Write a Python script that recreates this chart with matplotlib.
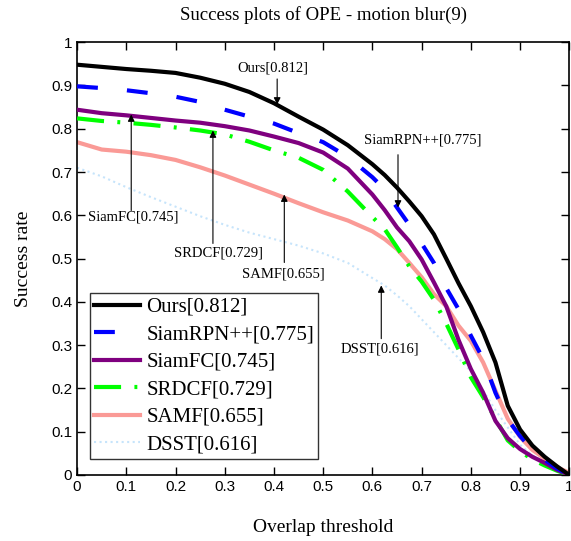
import matplotlib
matplotlib.use("Agg")
import matplotlib.pyplot as plt
import numpy as np

# overlap thresholds
thr = [0, 0.05, 0.1, 0.15, 0.2, 0.25, 0.3, 0.35, 0.4, 0.45, 0.5, 0.55, 0.6,
       0.625, 0.65, 0.675, 0.7, 0.725, 0.75, 0.775, 0.8, 0.825, 0.85, 0.875,
       0.9, 0.925, 0.95, 0.975, 1.0]

ours = [0.948, 0.943, 0.938, 0.934, 0.929, 0.918, 0.904, 0.885, 0.859, 0.828,
        0.798, 0.762, 0.718, 0.693, 0.664, 0.632, 0.598, 0.556, 0.500, 0.443,
        0.390, 0.330, 0.260, 0.160, 0.105, 0.068, 0.042, 0.020, 0.0]
siamrpn = [0.898, 0.894, 0.889, 0.882, 0.874, 0.862, 0.844, 0.828, 0.812, 0.790,
           0.769, 0.735, 0.688, 0.660, 0.618, 0.578, 0.535, 0.490, 0.432, 0.383,
           0.322, 0.268, 0.190, 0.128, 0.090, 0.058, 0.035, 0.015, 0.0]
siamfc = [0.844, 0.836, 0.831, 0.825, 0.819, 0.814, 0.806, 0.796, 0.782, 0.767,
          0.745, 0.708, 0.648, 0.612, 0.572, 0.540, 0.498, 0.445, 0.390, 0.312,
          0.245, 0.190, 0.125, 0.085, 0.060, 0.042, 0.028, 0.012, 0.0]
srdcf = [0.824, 0.818, 0.814, 0.809, 0.803, 0.796, 0.787, 0.770, 0.750, 0.733,
         0.705, 0.655, 0.596, 0.568, 0.526, 0.482, 0.447, 0.405, 0.350, 0.290,
         0.226, 0.180, 0.130, 0.080, 0.055, 0.036, 0.022, 0.010, 0.0]
samf = [0.769, 0.752, 0.747, 0.739, 0.728, 0.711, 0.692, 0.671, 0.650, 0.628,
        0.607, 0.588, 0.563, 0.545, 0.522, 0.490, 0.457, 0.418, 0.390, 0.345,
        0.310, 0.260, 0.195, 0.130, 0.088, 0.058, 0.038, 0.018, 0.005]
dsst = [0.710, 0.690, 0.665, 0.642, 0.620, 0.598, 0.578, 0.560, 0.545, 0.530,
        0.512, 0.490, 0.455, 0.438, 0.415, 0.390, 0.360, 0.330, 0.300, 0.270,
        0.240, 0.195, 0.150, 0.110, 0.070, 0.045, 0.030, 0.015, 0.0]

names = ['Ours[0.812]', 'SiamRPN++[0.775]', 'SiamFC[0.745]',
         'SRDCF[0.729]', 'SAMF[0.655]', 'DSST[0.616]']

serif = 'Liberation Serif'
sans = 'Liberation Sans'

fig = plt.figure(figsize=(5.71, 5.41), dpi=100)
ax = fig.add_axes([0.135, 0.122, 0.862, 0.8])

ax.plot(thr, dsst, color='#c6e4fb', lw=1.5, ls=':', label=names[5], zorder=1)
ax.plot(thr, samf, color='#fa9a96', lw=3, label=names[4], zorder=2)
ax.plot(thr, srdcf, color='#00ff00', lw=3, dashes=(6.5, 3.2, 0.7, 3.2), label=names[3], zorder=3)
ax.plot(thr, siamfc, color='#7f007f', lw=3, label=names[2], zorder=4)
ax.plot(thr, siamrpn, color='#0000ff', lw=3, dashes=(5, 7), label=names[1], zorder=5)
ax.plot(thr, ours, color='black', lw=3, label=names[0], zorder=6)

ax.set_xlim(0, 1)
ax.set_ylim(0, 1)
ticks = np.round(np.arange(0, 1.01, 0.1), 1)
ticklabels = ['0'] + ['%.1f' % t for t in ticks[1:-1]] + ['1']
ax.set_xticks(ticks)
ax.set_xticklabels(ticklabels, fontfamily=sans, fontsize=11)
ax.set_yticks(ticks)
ax.set_yticklabels(ticklabels, fontfamily=sans, fontsize=11)
ax.tick_params(direction='in', length=6, top=True, right=True, width=1)
for s in ax.spines.values():
    s.set_linewidth(1.2)

ax.set_title('Success plots of OPE - motion blur(9)', fontfamily=serif, fontsize=13.5, pad=16)
ax.set_xlabel('Overlap threshold', fontfamily=serif, fontsize=14, labelpad=18)
ax.set_ylabel('Success rate', fontfamily=serif, fontsize=14, labelpad=14)

# annotations: (text, text pos, arrow start, arrow tip)
notes = [
    (names[0], (0.398, 0.941), (0.4065, 0.915), (0.4065, 0.856)),
    (names[1], (0.703, 0.773), (0.652, 0.740), (0.652, 0.618)),
    (names[2], (0.114, 0.595), (0.110, 0.611), (0.110, 0.833)),
    (names[3], (0.287, 0.512), (0.276, 0.535), (0.276, 0.796)),
    (names[4], (0.419, 0.465), (0.421, 0.491), (0.421, 0.648)),
    (names[5], (0.616, 0.292), (0.618, 0.315), (0.618, 0.438)),
]
for txt, tp, a0, a1 in notes:
    ax.text(tp[0], tp[1], txt, fontfamily=serif, fontsize=10.5, ha='center', va='center', zorder=8)
    ax.annotate('', xy=a1, xytext=a0,
                arrowprops=dict(arrowstyle='-|>', color='black', lw=0.8,
                                mutation_scale=10, shrinkA=0, shrinkB=0), zorder=8)

handles, labels = ax.get_legend_handles_labels()
order = [5, 4, 3, 2, 1, 0]
leg = ax.legend([handles[i] for i in order], [labels[i] for i in order],
                loc='lower left', bbox_to_anchor=(0.026, 0.038), borderaxespad=0,
                prop={'family': serif, 'size': 15}, fancybox=False,
                edgecolor='#333333', framealpha=1, handlelength=2.2,
                labelspacing=0.38, borderpad=0.2, handletextpad=0.3)
leg.get_frame().set_linewidth(1.0)
leg.set_zorder(10)

fig.savefig('out.png', dpi=100)
